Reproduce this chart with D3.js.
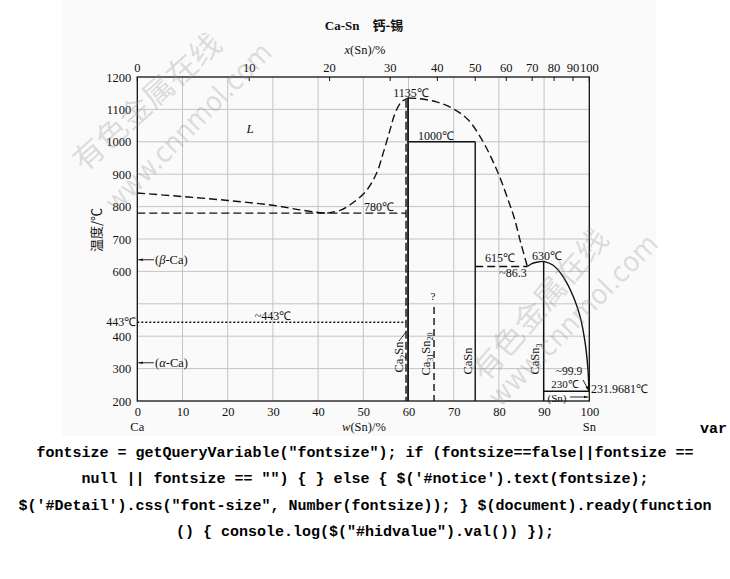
<!DOCTYPE html>
<html><head><meta charset="utf-8">
<script src="https://cdn.jsdelivr.net/npm/d3@7/dist/d3.min.js"></script>
<style>
html,body{margin:0;padding:0;background:#fff;}
svg{display:block;}
</style></head>
<body>
<svg id="chart" width="730" height="579"></svg>
<script>
// ---------- data ----------
const xTickValues = [0,10,20,30,40,50,60,70,80,90,100];          // w(Sn)/%
const topTickValues = [0,10,20,30,40,50,60,70,80,90,100];        // x(Sn)/%
const yGridValues = [200,300,400,500,600,700,800,900,1000,1100,1200];
const yTickLabels = [200,300,400,600,700,800,900,1000,1100,1200]; // 500 replaced by 443℃
const massSn = 118.71, massCa = 40.078;

// liquidus (wt% Sn, °C)
const liqCaSide = [[0,842],[10,831],[20,819],[30,804],[36,790],[40,782],[42,780]];
const liqCa2SnLeft = [[42,780],[45,789],[47,805],[49,826],[51,855],[53,905],[54.4,965],[55.9,1036],[57,1087],[58.4,1123],[59.9,1135]];
const liqCa2SnRight = [[59.9,1135],[62.5,1133],[66.2,1123],[69.9,1102],[73.2,1068],[76.5,1000],[78.5,945],[80.2,891],[82.1,818],[83.4,765],[84.8,690],[86.3,615]];
const liqCaSn3Left = [[86.3,615],[87.3,624],[88.6,629],[89.9,631]];
const liqCaSn3Right = [[89.9,631],[92,619],[94.2,584],[96.5,521],[98,459],[99,387],[99.6,315],[99.85,260],[99.9,230]];

// invariant lines [x1, x2, T]
const eut780 = [0, 59.45, 780];
const tr443 = [0, 59.45, 443];
const peri1000 = [59.9, 74.76, 1000];
const eut615 = [74.76, 86.3, 615];
const eut230 = [89.9, 99.9, 230];

// compound lines [x, Ttop]
const ca2SnSolid = [59.9, 1135];
const ca2SnDashed = [59.45, 1130];
const ca31Sn20 = [65.65, 490];
const caSn = [74.76, 1000];
const caSn3 = [89.9, 631];

// ---------- chart ----------
const svg = d3.select("#chart");
const x = d3.scaleLinear().domain([0,100]).range([137.3, 589.3]);
const y = d3.scaleLinear().domain([200,1200]).range([401, 77]);
const atToWt = a => 100*a*massSn/(a*massSn + (100-a)*massCa);

const serif = "'Liberation Serif','Times New Roman',serif";
const cjk = "'Noto Sans CJK SC','Noto Sans',sans-serif";

svg.append("rect").attr("x",62).attr("y",0).attr("width",594).attr("height",436).attr("fill","#fafafa");

// grid
const g = svg.append("g");
g.selectAll("line.gx").data(xTickValues.slice(1,-1)).join("line")
  .attr("x1",d=>x(d)).attr("x2",d=>x(d)).attr("y1",y(200)).attr("y2",y(1200))
  .attr("stroke","#c4c4c4").attr("stroke-width",1);
g.selectAll("line.gy").data(yGridValues.slice(1,-1)).join("line")
  .attr("x1",x(0)).attr("x2",x(100)).attr("y1",d=>y(d)).attr("y2",d=>y(d))
  .attr("stroke","#c4c4c4").attr("stroke-width",1);

// axes
const axL = svg.append("g").attr("transform",`translate(${x(0)},0)`)
  .call(d3.axisLeft(y).tickValues(yTickLabels).tickSize(0).tickPadding(6).tickFormat(d3.format("d")));
axL.select(".domain").remove();
axL.selectAll("text").attr("font-family",serif).attr("font-size",12.5).attr("fill","#111");

const axB = svg.append("g").attr("transform",`translate(0,${y(200)})`)
  .call(d3.axisBottom(x).tickValues(xTickValues).tickSize(0).tickPadding(6).tickFormat(d3.format("d")));
axB.select(".domain").remove();
axB.selectAll("text").attr("font-family",serif).attr("font-size",12.5).attr("fill","#111");

// top axis (atomic %)
const topAx = svg.append("g");
topAx.selectAll("line").data(topTickValues).join("line")
  .attr("x1",d=>x(atToWt(d))).attr("x2",d=>x(atToWt(d))).attr("y1",y(1200)).attr("y2",y(1200)+4)
  .attr("stroke","#111").attr("stroke-width",1);
topAx.selectAll("text").data(topTickValues).join("text")
  .attr("x",d=>x(atToWt(d))).attr("y",y(1200)-5).attr("text-anchor","middle")
  .attr("font-family",serif).attr("font-size",12.5).attr("fill","#111").text(d=>d);

// frame
svg.append("rect").attr("x",x(0)).attr("y",y(1200)).attr("width",x(100)-x(0)).attr("height",y(200)-y(1200))
  .attr("fill","none").attr("stroke","#111").attr("stroke-width",1.3);

// curves
const line = d3.line().x(d=>x(d[0])).y(d=>y(d[1])).curve(d3.curveCatmullRom.alpha(0.5));
const dashed = "8,4";
[liqCaSide, liqCa2SnLeft, liqCa2SnRight].forEach(arr=>{
  svg.append("path").attr("d",line(arr)).attr("fill","none").attr("stroke","#111")
    .attr("stroke-width",1.4).attr("stroke-dasharray",dashed);
});
[liqCaSn3Left, liqCaSn3Right].forEach(arr=>{
  svg.append("path").attr("d",line(arr)).attr("fill","none").attr("stroke","#111").attr("stroke-width",1.4);
});

function hline(a, dash, w){
  svg.append("line").attr("x1",x(a[0])).attr("x2",x(a[1])).attr("y1",y(a[2])).attr("y2",y(a[2]))
    .attr("stroke","#111").attr("stroke-width",w||1.4).attr("stroke-dasharray",dash||null);
}
function vline(a, dash, w){
  svg.append("line").attr("x1",x(a[0])).attr("x2",x(a[0])).attr("y1",y(a[1])).attr("y2",y(200))
    .attr("stroke","#111").attr("stroke-width",w||1.4).attr("stroke-dasharray",dash||null);
}
hline(eut780, dashed);
hline(tr443, "2,2", 1.6);
hline(peri1000);
hline(eut615, dashed);
hline(eut230);
vline(ca2SnSolid, null, 1.8);
vline(ca2SnDashed, "8,3");
vline(ca31Sn20, "7,4");
vline(caSn);
vline(caSn3);

// ---------- labels ----------
function txt(px, py, s, opts){
  opts = opts||{};
  const t = svg.append("text").attr("x",px).attr("y",py)
    .attr("font-family",opts.family||serif).attr("font-size",opts.size||12.5)
    .attr("fill","#111").attr("text-anchor",opts.anchor||"middle");
  if(opts.italic) t.attr("font-style","italic");
  if(opts.weight) t.attr("font-weight",opts.weight);
  if(opts.rotate) t.attr("transform",`rotate(${opts.rotate},${px},${py})`);
  if(opts.html) t.html(s); else t.text(s);
  return t;
}
txt(364, 30, 'Ca-Sn\u2003<tspan font-family="'+"Noto Sans CJK SC"+'">钙-锡</tspan>', {weight:"bold", size:13, html:true});
txt(365, 54, '<tspan font-style="italic">x</tspan>(Sn)/%', {html:true, size:12.5});
txt(364, 431, '<tspan font-style="italic">w</tspan>(Sn)/%', {html:true, size:12.5});
txt(x(0), 431, "Ca");
txt(x(100), 431, "Sn");
txt(96, 230, "温度/℃", {family:cjk, size:13, rotate:-90, anchor:"middle"}).attr("dy","0.35em");
txt(250, 133, "L", {italic:true, size:13});
txt(411, 97, "1135℃", {size:12});
txt(436, 140, "1000℃", {size:12});
txt(379, 211, "780℃", {size:12});
txt(273, 320, "~443℃", {size:12});
txt(x(0)-1, y(443)+4, "443℃", {size:12, anchor:"end"});
txt(500, 262, "615℃", {size:12});
txt(513, 277, "~86.3", {size:12});
txt(547, 260, "630℃", {size:12});
txt(569, 374.5, "~99.9", {size:11.5});
txt(565, 388, "230℃", {size:11});
txt(591, 393, "231.9681℃", {size:12, anchor:"start"});
txt(557, 401.5, "(Sn)", {size:11});
txt(433, 300, "?", {size:11});
txt(155, y(636)+4, '(<tspan font-style="italic">β</tspan>-Ca)', {html:true, anchor:"start", size:12.5});
txt(155, y(318)+4, '(<tspan font-style="italic">α</tspan>-Ca)', {html:true, anchor:"start", size:12.5});

// rotated compound labels (subscripts via dy)
const sub = s => `<tspan dy="3" font-size="8">${s}</tspan><tspan dy="-3"></tspan>`;
txt(403, 357, 'Ca<tspan dy="3" font-size="8">2</tspan><tspan dy="-3">Sn</tspan>', {html:true, rotate:-90, size:12.5});
txt(430, 354, 'Ca<tspan dy="3" font-size="8">31</tspan><tspan dy="-3">Sn</tspan><tspan dy="3" font-size="8">20</tspan>', {html:true, rotate:-90, size:12.5});
txt(472, 361, 'CaSn', {rotate:-90, size:12.5});
txt(539, 359, 'CaSn<tspan dy="3" font-size="8">3</tspan>', {html:true, rotate:-90, size:12.5});

// arrows / leaders
const defs = svg.append("defs");
defs.append("marker").attr("id","ah").attr("viewBox","0 0 10 10").attr("refX",10).attr("refY",5)
  .attr("markerWidth",5).attr("markerHeight",5).attr("orient","auto")
  .append("path").attr("d","M0,2 L10,5 L0,8 Z").attr("fill","#111");
function arrow(x1,y1,x2,y2){
  svg.append("line").attr("x1",x1).attr("y1",y1).attr("x2",x2).attr("y2",y2)
    .attr("stroke","#111").attr("stroke-width",0.9).attr("marker-end","url(#ah)");
}
arrow(154, y(636), x(0)+1, y(636));
arrow(154, y(318), x(0)+1, y(318));
arrow(570, 397, x(100)-1, 397);
arrow(583, 380, x(99.9), y(232));
svg.append("line").attr("x1",399).attr("y1",341).attr("x2",406).attr("y2",332).attr("stroke","#111").attr("stroke-width",0.9);

// watermarks
function wm(cx, cy, ang, s, len, fam, size){
  svg.append("text").attr("x",cx).attr("y",cy).attr("text-anchor","middle").attr("dy","0.35em")
    .attr("font-family",fam).attr("font-size",size).attr("fill","rgba(140,140,140,0.28)")
    .attr("textLength",len).attr("lengthAdjust","spacingAndGlyphs")
    .attr("transform",`rotate(${ang},${cx},${cy})`).text(s);
}
wm(147, 102, -42, "有色金属在线", 188, cjk, 30);
wm(188, 127, -45.5, "www.cnnmol.com", 224, "'DejaVu Sans',sans-serif", 28);
wm(540, 305, -49, "有色金属在线", 190, cjk, 30);
wm(573, 320, -45.5, "www.cnnmol.com", 228, "'DejaVu Sans',sans-serif", 28);

// script text leaked into the page
const codeLines = [
  'fontsize = getQueryVariable("fontsize"); if (fontsize==false||fontsize ==',
  'null || fontsize == "") { } else { $(\'#notice\').text(fontsize);',
  '$(\'#Detail\').css("font-size", Number(fontsize)); } $(document).ready(function',
  '() { console.log($("#hidvalue").val()) });'
];
const mono = "'Liberation Mono','DejaVu Sans Mono',monospace";
svg.append("text").attr("x",727).attr("y",433).attr("text-anchor","end")
  .attr("font-family",mono).attr("font-weight","bold").attr("font-size",15).attr("fill","#000").text("var");
svg.selectAll("text.code").data(codeLines).join("text").attr("class","code")
  .attr("x",365).attr("y",(d,i)=>457+i*26.3).attr("text-anchor","middle")
  .attr("font-family",mono).attr("font-weight","bold").attr("font-size",15).attr("fill","#000")
  .attr("xml:space","preserve").text(d=>d);
</script>
</body></html>
